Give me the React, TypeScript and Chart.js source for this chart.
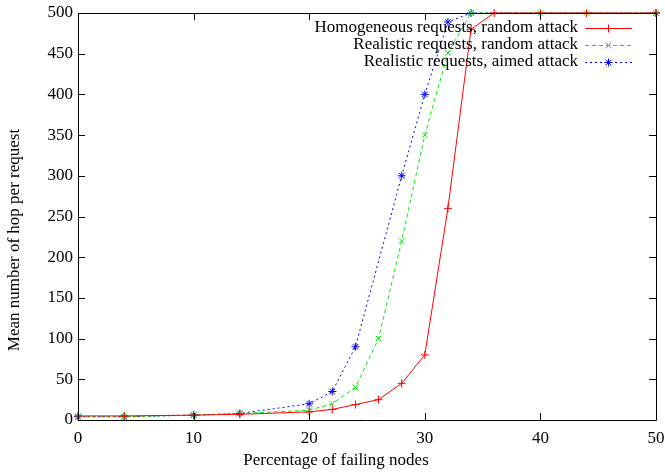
import React, { useEffect, useRef } from "react";
import { Chart, registerables } from "chart.js";

Chart.register(...registerables);

const homX = [0, 4, 10, 14, 20, 22, 24, 26, 28, 30, 32, 34, 36, 40, 44, 50];
const homY = [5, 5, 6, 7, 10, 13, 19, 25, 45, 80, 260, 480, 500, 500, 500, 500];
const realRandX = [0, 4, 10, 14, 20, 22, 24, 26, 28, 30, 32, 34, 40, 44, 50];
const realRandY = [4, 4, 6, 8, 12, 20, 40, 100, 220, 350, 451, 500, 500, 500, 500];
const realAimX = [0, 4, 10, 14, 20, 22, 24, 28, 30, 32, 34, 50];
const realAimY = [4, 4, 6, 8, 20, 35, 90, 300, 400, 489, 500, 500];

const xTicks = [0, 10, 20, 30, 40, 50];
const yTicks = [0, 50, 100, 150, 200, 250, 300, 350, 400, 450, 500];

const labels = [
  "Homogeneous requests, random attack",
  "Realistic requests, random attack",
  "Realistic requests, aimed attack",
];
const colors = ["#ff0000", "#00f000", "#0000ff"];
const styles = ["cross", "crossRot", "star"];
const dashes: number[][] = [[], [4, 3], [2, 3]];
const xTitle = "Percentage of failing nodes";
const yTitle = "Mean number of hop per request";

const FONT = "'Liberation Serif', 'Times New Roman', serif";

const toPts = (xs: number[], ys: number[]) => xs.map((x, i) => ({ x, y: ys[i] }));

function marker(ctx: CanvasRenderingContext2D, style: string, x: number, y: number, r: number) {
  ctx.beginPath();
  if (style === "cross" || style === "star") {
    ctx.moveTo(x - r, y);
    ctx.lineTo(x + r, y);
    ctx.moveTo(x, y - r);
    ctx.lineTo(x, y + r);
  }
  if (style === "crossRot" || style === "star") {
    const d = r * 0.7071;
    ctx.moveTo(x - d, y - d);
    ctx.lineTo(x + d, y + d);
    ctx.moveTo(x - d, y + d);
    ctx.lineTo(x + d, y - d);
  }
  ctx.stroke();
}

const framePlugin = {
  id: "frame",
  afterDatasetsDraw(chart: any) {
    const { ctx, chartArea: a, scales } = chart;
    const xs = scales.x;
    const ys = scales.y;
    ctx.save();
    ctx.strokeStyle = "#000";
    ctx.lineWidth = 1;
    ctx.setLineDash([]);
    ctx.beginPath();
    ctx.rect(Math.round(a.left) + 0.5, Math.round(a.top) + 0.5, Math.round(a.right - a.left), Math.round(a.bottom - a.top));
    ctx.stroke();
    const L = 7;
    ctx.beginPath();
    xTicks.forEach((v) => {
      const p = Math.round(xs.getPixelForValue(v)) + 0.5;
      ctx.moveTo(p, a.bottom);
      ctx.lineTo(p, a.bottom - L);
      ctx.moveTo(p, a.top);
      ctx.lineTo(p, a.top + L);
    });
    yTicks.forEach((v) => {
      const p = Math.round(ys.getPixelForValue(v)) + 0.5;
      ctx.moveTo(a.left, p);
      ctx.lineTo(a.left + L, p);
      ctx.moveTo(a.right, p);
      ctx.lineTo(a.right - L, p);
    });
    ctx.stroke();

    // axis titles
    ctx.font = `17px ${FONT}`;
    ctx.fillStyle = "#000";
    ctx.textAlign = "center";
    ctx.textBaseline = "middle";
    ctx.fillText(xTitle, 336, 461);
    ctx.save();
    ctx.translate(15, 240);
    ctx.rotate(-Math.PI / 2);
    ctx.fillText(yTitle, 0, 0);
    ctx.restore();

    // legend
    const rows = [28, 45, 62];
    const textRight = 578;
    const lx0 = 585;
    const lx1 = 632;
    ctx.textAlign = "right";
    labels.forEach((lab, i) => {
      const y = rows[i];
      ctx.fillStyle = "#000";
      ctx.fillText(lab, textRight, y);
      ctx.strokeStyle = colors[i];
      ctx.lineWidth = 1;
      ctx.setLineDash(dashes[i]);
      ctx.beginPath();
      ctx.moveTo(lx0, y + 0.5);
      ctx.lineTo(lx1, y + 0.5);
      ctx.stroke();
      ctx.setLineDash([]);
      marker(ctx, styles[i], (lx0 + lx1) / 2, y + 0.5, 4);
    });
    ctx.restore();
  },
};

export default function App() {
  const ref = useRef<HTMLCanvasElement>(null);
  useEffect(() => {
    document.body.style.margin = "0";
    const ctx = ref.current!;
    const common = { borderWidth: 1, pointRadius: 4, pointBorderWidth: 1, pointHoverRadius: 4, fill: false, tension: 0, clip: false as any, showLine: true };
    const series = [toPts(homX, homY), toPts(realRandX, realRandY), toPts(realAimX, realAimY)];
    const chart = new Chart(ctx, {
      type: "scatter",
      data: {
        datasets: series.map((d, i) => ({
          ...common,
          label: labels[i],
          data: d,
          borderColor: colors[i],
          backgroundColor: colors[i],
          pointStyle: styles[i],
          borderDash: dashes[i],
        })) as any,
      },
      options: {
        animation: false,
        responsive: false,
        maintainAspectRatio: false,
        layout: { padding: { top: 13, right: 9, left: 0, bottom: 0 } },
        plugins: { legend: { display: false }, tooltip: { enabled: false } },
        scales: {
          x: {
            type: "linear",
            min: 0,
            max: 50,
            afterBuildTicks: (s: any) => { s.ticks = xTicks.map((v) => ({ value: v })); },
            afterFit: (s: any) => { s.height = 52; s.paddingLeft = 0; s.paddingRight = 0; },
            grid: { display: false, drawTicks: false },
            border: { display: false },
            ticks: { color: "#000", font: { family: FONT, size: 17 }, padding: 8, maxRotation: 0 },
            title: { display: false },
          },
          y: {
            type: "linear",
            min: 0,
            max: 500,
            afterBuildTicks: (s: any) => { s.ticks = yTicks.map((v) => ({ value: v })); },
            afterFit: (s: any) => { s.width = 78; s.paddingTop = 0; s.paddingBottom = 0; },
            grid: { display: false, drawTicks: false },
            border: { display: false },
            ticks: { color: "#000", font: { family: FONT, size: 17 }, padding: 5 },
            title: { display: false },
          },
        },
      },
      plugins: [framePlugin],
    });
    return () => chart.destroy();
  }, []);
  return (
    <div style={{ position: "absolute", left: 0, top: 0, width: 665, height: 472, background: "#fff" }}>
      <canvas ref={ref} width={665} height={472} style={{ width: 665, height: 472 }} />
    </div>
  );
}
